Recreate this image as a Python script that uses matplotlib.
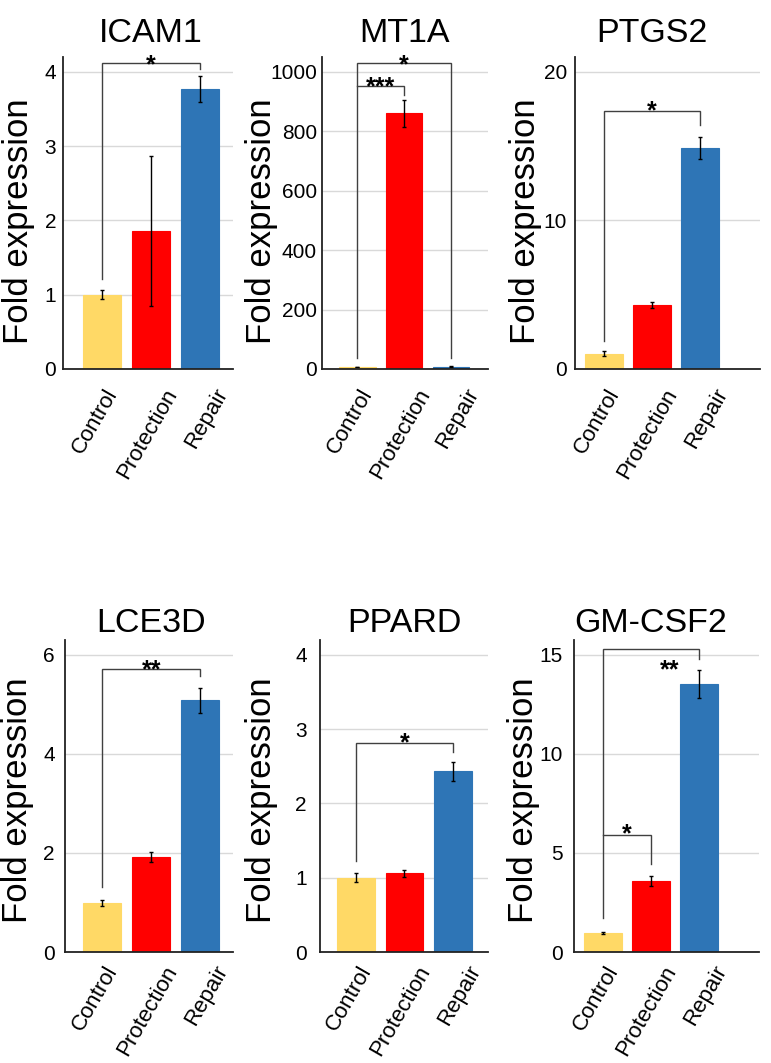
import matplotlib
matplotlib.use('Agg')
import matplotlib.pyplot as plt
import matplotlib.transforms as mtransforms

plt.rcParams['font.family'] = ['Liberation Sans', 'DejaVu Sans']

# ---------------- data ----------------
categories = ['Control', 'Protection', 'Repair']
genes = ['ICAM1', 'MT1A', 'PTGS2', 'LCE3D', 'PPARD', 'GM-CSF2']

icam1_mean = [1.00, 1.86, 3.77]
icam1_err = [0.06, 1.01, 0.18]
mt1a_mean = [7.0, 860.0, 8.0]
mt1a_err = [0.3, 44.0, 1.0]
ptgs2_mean = [1.03, 4.31, 14.86]
ptgs2_err = [0.15, 0.20, 0.74]
lce3d_mean = [0.99, 1.92, 5.08]
lce3d_err = [0.06, 0.10, 0.26]
ppard_mean = [1.00, 1.06, 2.43]
ppard_err = [0.06, 0.05, 0.125]
gmcsf2_mean = [0.98, 3.57, 13.54]
gmcsf2_err = [0.05, 0.25, 0.72]

means = [icam1_mean, mt1a_mean, ptgs2_mean, lce3d_mean, ppard_mean, gmcsf2_mean]
errs = [icam1_err, mt1a_err, ptgs2_err, lce3d_err, ppard_err, gmcsf2_err]

y_max = [4.2, 1050, 21, 6.3, 4.2, 15.75]
y_ticks = [[0, 1, 2, 3, 4], [0, 200, 400, 600, 800, 1000], [0, 10, 20],
           [0, 2, 4, 6], [0, 1, 2, 3, 4], [0, 5, 10, 15]]

# significance brackets:
# (panel, left cat, right cat, bracket y, left foot y, right foot y, label, label x, label y)
brackets = [
    (0, 0, 2, 4.12, 1.21, 4.04, '*', 1.0, 4.14),
    (1, 0, 2, 1029, 37, 37, '*', 1.0, 1034),
    (1, 0, 1, 954, 954, 922, '***', 0.5, 958),
    (2, 0, 2, 17.35, 1.86, 16.45, '*', 1.0, 17.55),
    (3, 0, 2, 5.72, 1.31, 5.58, '**', 1.0, 5.75),
    (4, 0, 2, 2.81, 1.23, 2.69, '*', 1.0, 2.86),
    (5, 0, 2, 15.32, 1.72, 14.81, '**', 1.38, 14.39),
    (5, 0, 1, 5.91, 5.91, 4.43, '*', 0.5, 6.10),
]

bar_colors = ['#FFD966', '#FF0000', '#2E75B6']

# ---------------- layout (pixels) ----------------
W, H = 771, 1063
fig = plt.figure(figsize=(W / 100, H / 100), dpi=100)

# left, right, top, bottom in pixel coords
boxes = [(63, 233, 57, 369), (322, 488, 57, 369), (575, 760, 57, 369),
         (65, 233, 640, 952), (320, 488, 640, 952), (574, 759, 640, 952)]
xlims = [(-0.8, 2.67), (-0.755, 2.79), (-0.6, 3.25),
         (-0.76, 2.67), (-0.74, 2.72), (-0.6, 3.25)]
ylabel_x = [19, 261, 525, 18, 261, 523]
ylabel_y = [221, 221, 221, 800, 800, 800]
title_off = [1.048, 1.048, 1.048, 1.026, 1.026, 1.026]
ytick_pad = [5, 3.6, 5.8, 7.2, 9.4, 7.9]
xlab_dx = [11, 21, 23]          # px shift of each category label
xlab_dy = [-21, -21, -21, -15, -15, -15]

xpos = list(range(len(categories)))

for i, gene in enumerate(genes):
    l, r, t, b = boxes[i]
    ax = fig.add_axes([l / W, 1 - b / H, (r - l) / W, (b - t) / H])
    ax.grid(axis='y', color='#d9d9d9', linewidth=1.0, zorder=0)
    ax.set_axisbelow(True)
    ax.bar(xpos, means[i], width=0.78, color=bar_colors,
           edgecolor=bar_colors, linewidth=0.8, zorder=2)
    ax.errorbar(xpos, means[i], yerr=errs[i], fmt='none', ecolor='black',
                elinewidth=1.0, capsize=1.6, capthick=1.0, zorder=3)
    ax.set_xlim(*xlims[i])
    ax.set_ylim(0, y_max[i])
    for s in ['top', 'right']:
        ax.spines[s].set_visible(False)
    for s in ['left', 'bottom']:
        ax.spines[s].set_color('#222222')
        ax.spines[s].set_linewidth(1.3)
        ax.spines[s].set_zorder(4)

    ttrans = mtransforms.blended_transform_factory(ax.transData, ax.transAxes)
    ax.text(1, title_off[i], gene, transform=ttrans, ha='center',
            va='baseline', fontsize=24.5)

    for (p, c1, c2, yb, yl, yr, lab, lx, ly) in brackets:
        if p != i:
            continue
        ax.plot([c1, c1, c2, c2], [yl, yb, yb, yr], color='#404040',
                linewidth=1.0, zorder=5, solid_joinstyle='miter')
        ax.annotate(lab, xy=(lx, ly), xytext=(0, -7.5), textcoords='offset points',
                    ha='center', va='baseline', fontsize=18, fontweight='bold',
                    zorder=6)

    # ticks
    ax.set_yticks(y_ticks[i])
    ax.set_xticks(xpos)
    ax.tick_params(axis='y', length=0, pad=ytick_pad[i], labelsize=15)
    ax.tick_params(axis='x', length=0, pad=0, labelsize=16)
    ax.set_yticklabels([str(v) for v in y_ticks[i]])
    ax.set_xticklabels(categories, rotation=60, ha='right', va='center',
                       rotation_mode='anchor')
    for k, lab in enumerate(ax.get_xticklabels()):
        off = mtransforms.ScaledTranslation(xlab_dx[k] / 100, xlab_dy[i] / 100,
                                            fig.dpi_scale_trans)
        lab.set_transform(lab.get_transform() + off)

    ax.set_ylabel('Fold expression', fontsize=25, va='center', ha='center')
    ax.yaxis.set_label_coords(ylabel_x[i] / W, 1 - ylabel_y[i] / H,
                              transform=fig.transFigure)

fig.savefig('out.png', dpi=100)
